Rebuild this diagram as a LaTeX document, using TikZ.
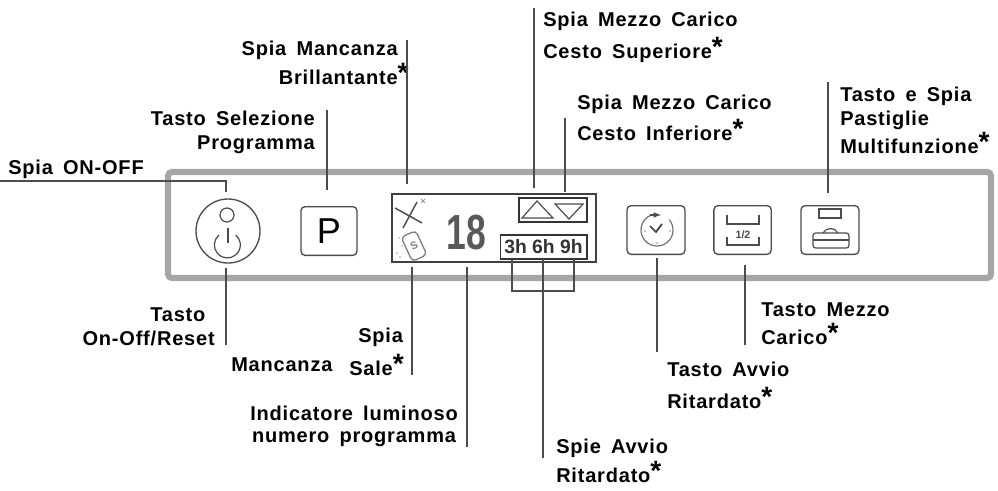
\documentclass[tikz,border=0pt]{standalone}
\usepackage{fontspec}
\setmainfont[LetterSpace=4,WordSpace=1.6]{Liberation Sans}
\newfontfamily\plainsans{Liberation Sans}
\newcommand{\stella}{\raisebox{1.5pt}{\fontsize{21}{21}\selectfont *}}
\tikzset{
    label/.style={font=\bfseries\fontsize{15}{18}\selectfont, inner sep=0pt, text=black},
    lead/.style={line width=0.9pt, black!70},
    keybox/.style={draw=black!70, line width=1pt, rounded corners=3pt},
    icon/.style={draw=black!70, line width=0.9pt}
}
\begin{document}
\begin{tikzpicture}[x=0.75pt,y=-0.75pt]
    \useasboundingbox (0,0) rectangle (998,490);

    % panel
    \draw[line width=4.6pt, black!35, rounded corners=3pt] (168,172) rectangle (991,278);

    % keys
    \node[draw=black!70, line width=1pt, circle, minimum size=48pt, inner sep=0pt] (onoff) at (228,231) {};
    \draw[icon] (227,215) circle (7);
    \draw[icon] (219,235) arc (-130:-410:13);
    \draw[icon] (228,228) -- (228,243);

    \node[keybox, minimum width=42pt, minimum height=36.5pt, inner sep=0pt, font=\plainsans\fontsize{27}{27}\selectfont, text=black] (prog) at (329,231) {P};

    % display
    \node[draw=black!75, line width=1pt, minimum width=153pt, minimum height=51pt, inner sep=0pt] (lcd) at (494,228) {};
    \node[font=\bfseries\fontsize{37}{37}\selectfont, text=black!65, inner sep=0pt] (num) at (466,233) {\plainsans\scalebox{0.72}[1]{18}};

    \draw[black!70, line width=1.1pt] (395,208) -- (422,223);
    \draw[black!70, line width=1.1pt] (417,202) -- (403,228);
    \draw[black!40, line width=0.7pt] (421,199) -- (425,203) (425,199) -- (421,203);
    \node[draw=black!50, line width=1pt, rounded corners=3pt, minimum width=12pt, minimum height=20pt, rotate=25, inner sep=0pt, font=\plainsans\bfseries\fontsize{8}{8}\selectfont, text=black!50] (salt) at (414,246) {S};
    \foreach \dotx/\doty in {399/238, 402/246, 397/253, 400/257}
        \fill[black!35] (\dotx,\doty) circle (0.8);

    \node[draw=black!80, line width=1pt, minimum width=51pt, minimum height=18pt, inner sep=0pt] (halfbox) at (553,210) {};
    \draw[icon] (522,218) -- (537,201) -- (553,218) -- cycle;
    \draw[icon] (555,204) -- (583,204) -- (569,219) -- cycle;

    \node[draw=black!80, line width=1pt, minimum width=65pt, minimum height=18pt, inner sep=0pt, font=\plainsans\bfseries\fontsize{14.5}{14.5}\selectfont, text=black!80] (hours) at (543.5,247) {3h 6h 9h};

    % clock key
    \node[keybox, minimum width=43.5pt, minimum height=36.5pt, inner sep=0pt] (clock) at (656,230) {};
    \draw[icon, black!55] (657,214) arc (-90:-400:16);
    \draw[-latex, icon, black!70] (650,215) -- (661,215);
    \draw[black!75, line width=1.3pt] (650,226) -- (656,232) -- (662,224);
    \foreach \dotx/\doty in {645/231, 657/243, 670/231}
        \fill[black!45] (\dotx,\doty) circle (0.9);

    % half load key
    \node[keybox, minimum width=43pt, minimum height=36.5pt, inner sep=0pt] (half) at (742.5,230) {};
    \draw[icon] (727,215) -- (727,224) -- (759,224) -- (759,215);
    \draw[icon] (727,237) -- (727,245) -- (759,245) -- (759,237);
    \node[font=\plainsans\bfseries\fontsize{8}{8}\selectfont, inner sep=0pt, text=black!70] (halftxt) at (743,235) {1/2};

    % tablet key
    \node[keybox, minimum width=43.5pt, minimum height=36.5pt, inner sep=0pt] (tablet) at (830,230) {};
    \draw[icon] (819,209) rectangle (841,218);
    \draw[icon, rounded corners=2pt] (813,233) rectangle (849,248);
    \draw[icon] (813,240) -- (849,240);
    \draw[icon] (823,233) .. controls (826,227) and (835,227) .. (838,233);

    % labels
    \node[label, anchor=west] (lonoff) at (8,169) {Spia ON-OFF};
    \node[label, anchor=east, align=right] (lprog) at (315,132) {Tasto Selezione\\Programma};
    \node[label, anchor=east, align=right] (lbrill) at (398,63) {Spia Mancanza\\[1.5pt]Brillantante\rlap{\stella}};
    \node[label, anchor=west, align=left] (lsup) at (543,37) {Spia Mezzo Carico\\[3.7pt]Cesto Superiore\stella};
    \node[label, anchor=west, align=left] (linf) at (577,118) {Spia Mezzo Carico\\[3.7pt]Cesto Inferiore\stella};
    \node[label, anchor=west, align=left] (ltablet) at (840,120) {Tasto e Spia\\Pastiglie\\[1pt]Multifunzione\stella};
    \node[label, anchor=east, align=right] (lreset) at (215,327) {Tasto\kern7pt\\On-Off/Reset};
    \node[label, anchor=west] (lspia) at (358,337) {Spia};
    \node[label, anchor=west] (lmanc) at (231,365) {Mancanza};
    \node[label, anchor=west] (lsale) at (349,365) {Sale\stella};
    \node[label, anchor=east, align=center] (lnum) at (458,426) {Indicatore luminoso\\[-1.5pt]numero programma};
    \node[label, anchor=west, align=left] (lspie) at (556,461) {Spie Avvio\\[1.5pt]Ritardato\stella};
    \node[label, anchor=west, align=left] (lavvio) at (667,385) {Tasto Avvio\\[6pt]Ritardato\stella};
    \node[label, anchor=west, align=left] (lmezzo) at (761,324) {Tasto Mezzo\\[3pt]Carico\stella};

    % free ends of the leaders
    \coordinate (a0) at (0,181);
    \coordinate (a1) at (226,181);
    \coordinate (a2) at (226,192);
    \coordinate (b1) at (226,268);
    \coordinate (b2) at (226,345);
    \coordinate (c1) at (327,110);
    \coordinate (c2) at (327,190);
    \coordinate (d1) at (407,40);
    \coordinate (d2) at (407,184);
    \coordinate (e1) at (534,8);
    \coordinate (e2) at (534,188);
    \coordinate (f1) at (565,118);
    \coordinate (f2) at (565,192);
    \coordinate (g1) at (828,82);
    \coordinate (g2) at (828,193);
    \coordinate (h1) at (412,267);
    \coordinate (h2) at (412,375);
    \coordinate (i1) at (467,267);
    \coordinate (i2) at (467,447);
    \coordinate (j1) at (543,259);
    \coordinate (j2) at (543,458);
    \coordinate (k1) at (512,259);
    \coordinate (k2) at (512,291);
    \coordinate (k3) at (574,291);
    \coordinate (k4) at (574,259);
    \coordinate (l1) at (657,258);
    \coordinate (l2) at (657,352);
    \coordinate (m1) at (745,265);
    \coordinate (m2) at (745,345);

    \draw[lead] (a0) -- (a1) -- (a2);
    \foreach \from/\to in {b1/b2,c1/c2,d1/d2,e1/e2,f1/f2,g1/g2,h1/h2,i1/i2,j1/j2,l1/l2,m1/m2}
        \draw[lead] (\from) -- (\to);
    \draw[lead] (k1) -- (k2) -- (k3) -- (k4);

\end{tikzpicture}
\end{document}
